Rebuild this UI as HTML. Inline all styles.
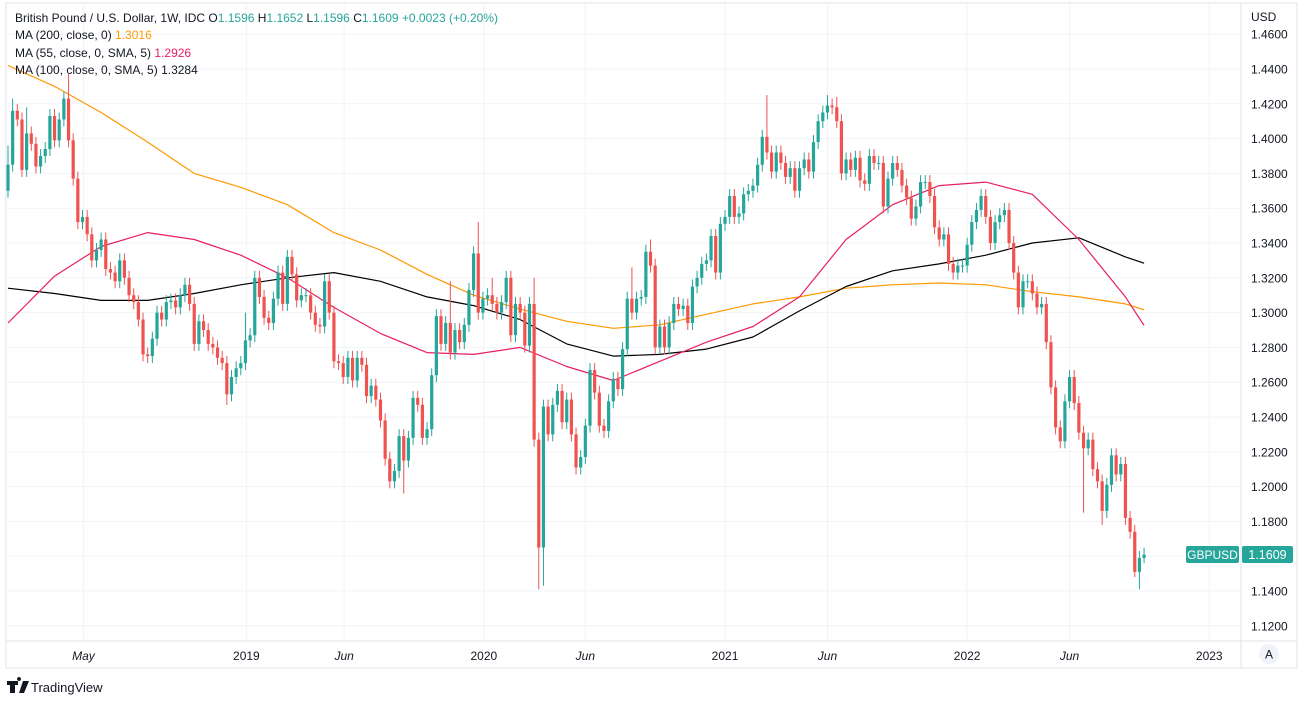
<!DOCTYPE html>
<html><head><meta charset="utf-8">
<style>
html,body{margin:0;padding:0;background:#fff;width:1299px;height:701px;overflow:hidden;font-family:"Liberation Sans",sans-serif;}
svg text{font-family:"Liberation Sans",sans-serif;}
</style></head>
<body>
<svg id="chart" width="1299" height="701" viewBox="0 0 1299 701" xmlns="http://www.w3.org/2000/svg">
<rect x="0" y="0" width="1299" height="701" fill="#ffffff"/>
<g id="grid"></g>
<g id="mas"></g>
<g id="candles"></g>
<g id="frame">
<rect x="6" y="3" width="1291" height="665" fill="none" stroke="#e0e3eb" stroke-width="1"/>
<line x1="1241" y1="3" x2="1241" y2="668" stroke="#e0e3eb"/>
<line x1="6" y1="641" x2="1297" y2="641" stroke="#e0e3eb"/>
</g>
<g id="yaxis"></g>
<g id="xaxis"></g>
<g font-size="12" xml:space="preserve">
<text x="15" y="22" fill="#131722">British Pound / U.S. Dollar, 1W, IDC  O<tspan fill="#26a69a">1.1596</tspan>  H<tspan fill="#26a69a">1.1652</tspan>  L<tspan fill="#26a69a">1.1596</tspan>  C<tspan fill="#26a69a">1.1609</tspan>  <tspan fill="#26a69a">+0.0023 (+0.20%)</tspan></text>
<text x="15" y="39" fill="#131722">MA (200, close, 0)  <tspan fill="#ff9800">1.3016</tspan></text>
<text x="15" y="57" fill="#131722">MA (55, close, 0, SMA, 5)  <tspan fill="#e91e63">1.2926</tspan></text>
<text x="15" y="74" fill="#131722">MA (100, close, 0, SMA, 5)  <tspan fill="#131722">1.3284</tspan></text>
</g>
<text x="1251" y="21" font-size="12" fill="#131722">USD</text>
<g>
<rect x="1186" y="546" width="53" height="17" rx="2" fill="#26a69a"/>
<text x="1212.5" y="559" font-size="12" fill="#fff" text-anchor="middle">GBPUSD</text>
<rect x="1242" y="546" width="51" height="17" rx="2" fill="#26a69a"/>
<text x="1267.5" y="559" font-size="12.5" fill="#fff" text-anchor="middle">1.1609</text>
</g>
<g>
<circle cx="1269" cy="654" r="10" fill="#f0f3fa"/>
<text x="1269" y="658.5" font-size="12" fill="#131722" text-anchor="middle">A</text>
</g>
<g>
<path d="M7 681h11v4h-3v8h-5v-8h-3z M19 681 a2 2 0 1 1 0.01 0z M23 681h6l-5 12h-5z" fill="#131722"/>
<text x="31" y="692" font-size="13" fill="#131722">TradingView</text>
</g>
</svg>
<script>
const closes=[1.385,1.416,1.411,1.382,1.403,1.397,1.384,1.39,1.394,1.413,1.399,1.411,1.423,1.399,
1.377,1.352,1.355,1.345,1.33,1.336,1.342,1.325,1.323,1.318,
1.33,1.32,1.31,1.306,1.296,1.276,1.275,1.285,1.30,1.296,
1.306,1.307,1.303,1.31,1.316,1.305,1.282,1.295,1.29,1.282,
1.28,1.274,1.271,1.253,1.263,1.268,1.271,1.284,1.287,1.32,
1.309,1.297,1.294,1.308,1.323,1.305,1.332,1.322,1.307,1.31,
1.31,1.30,1.293,
1.292,1.318,1.30,1.272,1.271,1.263,1.274,1.261,1.274,1.27,
1.252,1.258,1.25,1.238,1.216,1.203,1.209,1.229,1.215,1.228,
1.251,1.247,1.228,1.233,1.264,1.298,1.282,1.294,1.277,1.29,
1.283,1.293,1.313,1.334,1.30,1.308,1.31,1.305,1.30,1.306,
1.32,1.287,1.305,1.30,1.281,1.305,1.227,1.165,1.246,1.23,
1.247,1.255,1.237,1.25,1.23,1.211,1.217,1.235,1.267,1.254,
1.235,1.232,1.249,1.262,1.256,1.279,1.308,1.30,
1.308,1.309,1.335,1.327,1.28,1.292,1.28,1.294,1.305,1.302,
1.304,1.294,1.315,1.32,1.328,1.33,1.344,1.323,1.351,1.355,
1.367,1.355,1.357,1.368,1.37,1.373,1.385,1.401,1.392,1.381,
1.392,1.386,1.378,1.383,1.37,1.383,1.388,1.381,1.398,1.41,
1.415,1.419,1.418,1.41,1.38,1.388,1.382,1.389,1.376,1.374,
1.39,1.386,1.386,1.361,1.377,1.386,1.382,1.373,1.366,1.354,
1.361,1.375,1.375,1.367,1.349,1.342,
1.345,1.328,1.323,1.327,1.327,1.339,1.352,1.359,1.367,1.355,
1.34,1.352,1.356,1.359,1.34,1.323,1.303,1.318,1.318,1.311,
1.303,1.305,1.283,1.257,1.234,1.226,1.249,1.263,1.248,1.231,
1.222,1.227,1.21,1.203,1.186,1.201,1.218,1.207,1.213,1.182,
1.174,1.151,1.159,1.1609];
const firstOpen=1.37;
const highOverrides=[[0,1.396],[1,1.423],[13,1.437],[4,1.418],[51,1.30],[61,1.336],[68,1.322],[95,1.318],[101,1.352],[104,1.32],[113,1.32],[134,1.326],[138,1.342],[163,1.425],[176,1.425],[178,1.424]];
const lowOverrides=[[114,1.141],[115,1.143],[85,1.196],[47,1.247],[231,1.185],[235,1.178],[242,1.148],[243,1.141],[244,1.156]];
const maIdx=[0,10,20,30,40,50,60,70,80,90,100,110,120,130,140,150,160,170,180,190,200,210,220,230,240,244];
const ma200=[1.442,1.430,1.415,1.398,1.380,1.372,1.362,1.346,1.336,1.322,1.310,1.302,1.295,1.291,1.293,1.299,1.305,1.309,1.314,1.316,1.317,1.316,1.312,1.309,1.305,1.3016];
const ma55=[1.294,1.321,1.338,1.346,1.342,1.333,1.320,1.303,1.288,1.277,1.276,1.280,1.269,1.261,1.272,1.283,1.292,1.309,1.342,1.362,1.373,1.375,1.368,1.342,1.309,1.2926];
const ma100=[1.314,1.311,1.307,1.307,1.311,1.316,1.320,1.323,1.318,1.309,1.304,1.296,1.282,1.275,1.276,1.279,1.286,1.301,1.315,1.324,1.328,1.333,1.340,1.343,1.332,1.3284];
const yTicks=[1.46,1.44,1.42,1.40,1.38,1.36,1.34,1.32,1.30,1.28,1.26,1.24,1.22,1.20,1.18,1.16,1.14,1.12];
const xTickLabels=["May","2019","Jun","2020","Jun","2021","Jun","2022","Jun","2023"];
const xTickWeeks=[16.2,51.2,72.2,102.2,124,154,176,206,228,258];
const xTickItalic=[true,false,true,false,true,false,true,false,true,false];

const NS="http://www.w3.org/2000/svg";
function X(i){return 8+i*4.656;}
function Y(p){return 69+(1.44-p)/0.02*34.8;}
function mk(tag,attrs,parent){const e=document.createElementNS(NS,tag);for(const k in attrs)e.setAttribute(k,attrs[k]);parent.appendChild(e);return e;}
const grid=document.getElementById('grid'),yaxis=document.getElementById('yaxis'),xaxis=document.getElementById('xaxis');
yTicks.forEach(v=>{const y=Y(v);
 const l=mk('line',{x1:6,x2:1241,y1:y,y2:y,stroke:'#f0f3fa'},grid);
 
 
 const t=mk('text',{x:1251,y:y+4.5,'font-size':12,fill:'#131722'},yaxis);
 t.textContent=v.toFixed(4);
 
 
});
xTickWeeks.forEach((w,k)=>{const x=X(w);
 const l=mk('line',{x1:x,x2:x,y1:3,y2:641,stroke:'#f0f3fa'},grid);
 
 
 const t=mk('text',{x:x,y:660,'font-size':12,fill:'#131722','text-anchor':'middle'},xaxis);
 if(xTickItalic[k])t.setAttribute('font-style','italic');
 t.textContent=xTickLabels[k];
 
 
});
const mas=document.getElementById('mas');
[[ma200,'#ff9800','ma200-line'],[ma100,'#000000','ma100-line'],[ma55,'#e91e63','ma55-line']].forEach(([arr,col,name])=>{
 const pts=arr.map((v,k)=>X(maIdx[k]).toFixed(1)+','+Y(v).toFixed(1)).join(' ');
 const pl=mk('polyline',{points:pts,fill:'none',stroke:col,'stroke-width':1.2,'stroke-linejoin':'round'},mas);
 
 
});
const cg=document.getElementById('candles');
const hiMap={},loMap={};highOverrides.forEach(([i,v])=>hiMap[i]=v);lowOverrides.forEach(([i,v])=>loMap[i]=v);
closes.forEach((c,i)=>{
 const o=i===0?firstOpen:closes[i-1];
 const up=c>=o, col=up?'#26a69a':'#ef5350';
 const hi=hiMap[i]!==undefined?hiMap[i]:Math.max(o,c)+0.004;
 const lo=loMap[i]!==undefined?loMap[i]:Math.min(o,c)-0.004;
 const x=X(i);
 const g=mk('g',{},cg);
 
 
 mk('line',{x1:x,x2:x,y1:Y(hi),y2:Y(lo),stroke:col,'stroke-width':1},g);
 const yt=Y(Math.max(o,c)),yb=Y(Math.min(o,c));
 mk('rect',{x:x-1.6,y:yt,width:3.2,height:Math.max(1,yb-yt),fill:col},g);
});
</script>
</body></html>
